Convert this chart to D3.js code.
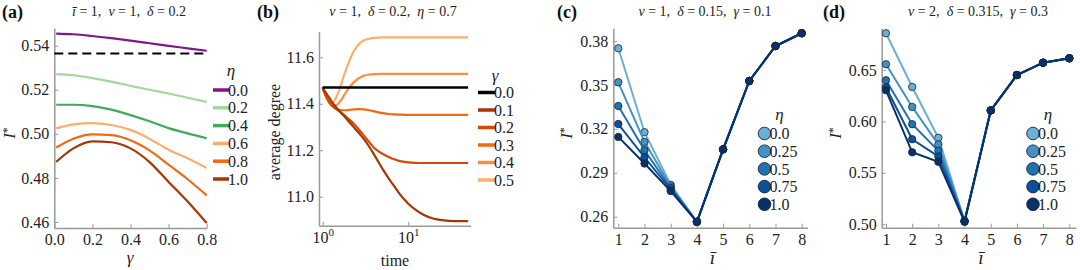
<!DOCTYPE html>
<html>
<head>
<meta charset="utf-8">
<script src="https://cdn.jsdelivr.net/npm/d3@7"></script>
<style>
  body { margin: 0; background: #fff; }
  svg { display: block; }
  .axis path { stroke: #999; stroke-width: 1.5; }
  .axis line { stroke: #999; stroke-width: 1; }
  .axis text { font-size: 16px; fill: #222; }
</style>
</head>
<body>
<svg id="fig" width="1080" height="270"></svg>
<script>
// ---- (a) I* against gamma, one curve per eta
const gammaA = [0.01, 0.1, 0.2, 0.3, 0.4, 0.5, 0.6, 0.7, 0.8];
const etaA = ['0.0', '0.2', '0.4', '0.6', '0.8', '1.0'];
const curvesA = [
  [0.5455, 0.5452, 0.5444, 0.5434, 0.5423, 0.5411, 0.5399, 0.5388, 0.5377],
  [0.5271, 0.5266, 0.5253, 0.5237, 0.5218, 0.5200, 0.5183, 0.5164, 0.5145],
  [0.5132, 0.5132, 0.5126, 0.5110, 0.5085, 0.5057, 0.5026, 0.5002, 0.4980],
  [0.5025, 0.5043, 0.5049, 0.5040, 0.5018, 0.4978, 0.4928, 0.4889, 0.4845],
  [0.4938, 0.4978, 0.4998, 0.4994, 0.4971, 0.4925, 0.4860, 0.4794, 0.4721],
  [0.4873, 0.4934, 0.4966, 0.4962, 0.4934, 0.4872, 0.4782, 0.4693, 0.4595]
];
const refLineA = 0.5365;
const colorsA = ['#80178a', '#a1d99b', '#41ab5d', '#fdae6b', '#f16913', '#a63603'];

// ---- (b) average degree against time, one curve per gamma
const timeB = [1, 1.1, 1.2, 1.3, 1.4, 1.6, 1.8, 2, 2.3, 2.7, 3, 3.5, 4, 5, 6, 7, 8, 10, 12, 15, 20, 25, 30, 40, 50];
const gammaB = ['0.0', '0.1', '0.2', '0.3', '0.4', '0.5'];
const curvesB = [
  [11.47, 11.47, 11.47, 11.47, 11.47, 11.47, 11.47, 11.47, 11.47, 11.47, 11.47, 11.47, 11.47, 11.47, 11.47, 11.47, 11.47, 11.47, 11.47, 11.47, 11.47, 11.47, 11.47, 11.47, 11.47],
  [11.47, 11.445, 11.425, 11.405, 11.39, 11.365, 11.345, 11.325, 11.30, 11.27, 11.25, 11.215, 11.18, 11.12, 11.075, 11.04, 11.01, 10.97, 10.945, 10.922, 10.905, 10.899, 10.896, 10.895, 10.895],
  [11.47, 11.43, 11.405, 11.39, 11.38, 11.365, 11.35, 11.335, 11.315, 11.285, 11.265, 11.235, 11.21, 11.185, 11.17, 11.16, 11.153, 11.148, 11.146, 11.145, 11.145, 11.145, 11.145, 11.145, 11.145],
  [11.47, 11.43, 11.405, 11.39, 11.38, 11.373, 11.372, 11.373, 11.376, 11.377, 11.376, 11.372, 11.367, 11.36, 11.356, 11.354, 11.353, 11.352, 11.352, 11.352, 11.352, 11.352, 11.352, 11.352, 11.352],
  [11.47, 11.43, 11.405, 11.392, 11.392, 11.41, 11.44, 11.465, 11.492, 11.512, 11.52, 11.526, 11.528, 11.529, 11.529, 11.529, 11.529, 11.529, 11.529, 11.529, 11.529, 11.529, 11.529, 11.529, 11.529],
  [11.47, 11.43, 11.41, 11.405, 11.42, 11.47, 11.53, 11.575, 11.625, 11.66, 11.672, 11.68, 11.684, 11.686, 11.686, 11.686, 11.686, 11.686, 11.686, 11.686, 11.686, 11.686, 11.686, 11.686, 11.686]
];
const colorsB = ['#000000', '#a63603', '#d94801', '#f16913', '#fd8d3c', '#fdae6b'];

// ---- (c), (d) I* against i-bar, one series per eta
const iBar = [1, 2, 3, 4, 5, 6, 7, 8];
const etaCD = ['0.0', '0.25', '0.5', '0.75', '1.0'];
const seriesC = [
  [0.3750, 0.3177, 0.2818, 0.2565, 0.3060, 0.3527, 0.3766, 0.3853],
  [0.3518, 0.3111, 0.2807, 0.2565, 0.3060, 0.3527, 0.3766, 0.3853],
  [0.3356, 0.3054, 0.2797, 0.2565, 0.3060, 0.3527, 0.3766, 0.3853],
  [0.3233, 0.3006, 0.2786, 0.2565, 0.3060, 0.3527, 0.3766, 0.3853],
  [0.3145, 0.2963, 0.2775, 0.2565, 0.3060, 0.3527, 0.3766, 0.3853]
];
const seriesD = [
  [0.6857, 0.6335, 0.5841, 0.5035, 0.6107, 0.6451, 0.6571, 0.6614],
  [0.6556, 0.6141, 0.5776, 0.5032, 0.6107, 0.6451, 0.6571, 0.6614],
  [0.6400, 0.5973, 0.5715, 0.5030, 0.6107, 0.6451, 0.6571, 0.6614],
  [0.6332, 0.5827, 0.5660, 0.5027, 0.6107, 0.6451, 0.6571, 0.6614],
  [0.6303, 0.5700, 0.5608, 0.5025, 0.6107, 0.6451, 0.6571, 0.6614]
];
const blues = ['#6baed6', '#4292c6', '#2171b5', '#08519c', '#08306b'];

const serif = '"Liberation Serif", "Times New Roman", "DejaVu Serif", serif';
const svg = d3.select('#fig');

// pin two values to two pixel positions, then stretch the range out to the spines
function fit(scale, v0, p0, v1, p1, lo, hi) {
  scale.domain([v0, v1]).range([p0, p1]);
  return scale.domain([scale.invert(lo), scale.invert(hi)]).range([lo, hi]);
}

function axes(x, y, xTicks, yTicks, xFmt, yFmt) {
  const xa = svg.append('g').attr('class', 'axis')
    .attr('transform', `translate(0,${y.range()[0]})`)
    .call(d3.axisBottom(x).tickValues(xTicks).tickFormat(xFmt)
      .tickSizeInner(-4).tickSizeOuter(0).tickPadding(6));
  svg.append('g').attr('class', 'axis')
    .attr('transform', `translate(${x.range()[0]},0)`)
    .call(d3.axisLeft(y).tickValues(yTicks).tickFormat(yFmt)
      .tickSizeInner(-4).tickSizeOuter(0).tickPadding(5));
  return xa;
}

// text made of plain and italic runs
function mathText(x, y, parts, size, anchor='middle', rotate=false) {
  const t = svg.append('text')
    .attr('font-size', size)
    .attr('text-anchor', anchor)
    .attr('fill', '#222')
    .style('white-space', 'pre');
  if (rotate) t.attr('transform', `translate(${x},${y}) rotate(-90)`);
  else t.attr('x', x).attr('y', y);
  parts.forEach(([s, it, dy, fs]) => {
    const sp = t.append('tspan').text(s);
    if (it) sp.attr('font-style', 'italic');
    if (dy) sp.attr('dy', dy);
    if (fs) sp.attr('font-size', fs);
  });
  return t;
}

function panelLabel(x, s) {
  svg.append('text').attr('x', x).attr('y', 18)
    .attr('font-size', 18).attr('font-weight', 'bold').attr('fill', '#111').text(s);
}

function istar(x) {
  mathText(x, 133, [['I', 1], ['*', 0, -4, 12]], 17, 'middle', true);
}

// ================= (a)
{
  const x = fit(d3.scaleLinear(), 0, 54.3, 0.8, 206.7, 54.3, 207);
  const y = fit(d3.scaleLinear(), 0.46, 222, 0.54, 45.7, 228, 28);
  axes(x, y, [0, 0.2, 0.4, 0.6, 0.8], [0.46, 0.48, 0.50, 0.52, 0.54], d3.format('.1f'), d3.format('.2f'));

  svg.append('line')
    .attr('x1', x(0)).attr('x2', x(0.8))
    .attr('y1', y(refLineA)).attr('y2', y(refLineA))
    .attr('stroke', '#000').attr('stroke-width', 2).attr('stroke-dasharray', '9,5');

  const line = d3.line().curve(d3.curveMonotoneX)
    .x((d, i) => x(gammaA[i])).y(d => y(d));
  svg.append('g').selectAll('path').data(curvesA).join('path')
    .attr('d', line).attr('fill', 'none')
    .attr('stroke', (d, i) => colorsA[i]).attr('stroke-width', 2.2);

  panelLabel(2, '(a)');
  mathText(129, 16, [['ī', 1], [' = 1,  '], ['ν', 1], [' = 1,  '], ['δ', 1], [' = 0.2']], 14);
  istar(15);
  mathText(130, 263, [['γ', 1]], 17);

  mathText(231, 76, [['η', 1]], 17);
  const lg = svg.append('g').selectAll('g').data(etaA).join('g')
    .attr('transform', (d, i) => `translate(0,${90 + i * 17.8})`);
  lg.append('line').attr('x1', 213).attr('x2', 229)
    .attr('stroke', (d, i) => colorsA[i]).attr('stroke-width', 3.5);
  lg.append('text').attr('x', 228).attr('dy', '0.35em')
    .attr('font-size', 16).attr('fill', '#222').text(d => d);
}

// ================= (b)
{
  const x = fit(d3.scaleLog(), 1, 322.7, 10, 408.3, 319, 470.7);
  const y = fit(d3.scaleLinear(), 11.0, 196.7, 11.6, 57.3, 225.7, 31.7);
  const xa = axes(x, y, [1, 10], [11.0, 11.2, 11.4, 11.6], d => '10', d3.format('.1f'));
  xa.selectAll('.tick text').each(function(d) {
    d3.select(this).append('tspan').attr('dy', -7).attr('font-size', 11)
      .text(Math.round(Math.log10(d)));
  });

  const line = d3.line().curve(d3.curveMonotoneX)
    .x((d, i) => x(timeB[i])).y(d => y(d));
  // draw lighter curves first so the black reference stays on top
  const order = [5, 4, 3, 2, 1, 0];
  svg.append('g').selectAll('path').data(order).join('path')
    .attr('d', k => line(curvesB[k])).attr('fill', 'none')
    .attr('stroke', k => colorsB[k]).attr('stroke-width', k => k ? 2.2 : 2.4);

  panelLabel(257, '(b)');
  mathText(393, 16, [['ν', 1], [' = 1,  '], ['δ', 1], [' = 0.2,  '], ['η', 1], [' = 0.7']], 14);
  svg.append('text').attr('transform', 'translate(280,132) rotate(-90)')
    .attr('text-anchor', 'middle').attr('font-size', 16).attr('fill', '#222')
    .text('average degree');
  svg.append('text').attr('x', 395).attr('y', 266)
    .attr('text-anchor', 'middle').attr('font-size', 16).attr('fill', '#222').text('time');

  mathText(495, 81, [['γ', 1]], 17);
  const lg = svg.append('g').selectAll('g').data(gammaB).join('g')
    .attr('transform', (d, i) => `translate(0,${92.5 + i * 17.5})`);
  lg.append('line').attr('x1', 478).attr('x2', 495)
    .attr('stroke', (d, i) => colorsB[i]).attr('stroke-width', 3.5);
  lg.append('text').attr('x', 494).attr('dy', '0.35em')
    .attr('font-size', 16).attr('fill', '#222').text(d => d);
}

// ================= (c) and (d)
function dotPanel(opt) {
  const x = fit(d3.scaleLinear(), 1, opt.x1, 8, opt.x8, opt.left, opt.right);
  const y = fit(d3.scaleLinear(), opt.yv[0], opt.yp[0], opt.yv[1], opt.yp[1], 227.7, 28.3);
  axes(x, y, iBar, opt.ticks, d3.format('d'), d3.format('.2f'));

  const line = d3.line().x((d, i) => x(iBar[i])).y(d => y(d));
  const grp = svg.append('g').selectAll('g').data(opt.series).join('g');
  grp.append('path').attr('d', line).attr('fill', 'none')
    .attr('stroke', (d, i) => blues[i]).attr('stroke-width', 2);
  grp.each(function(s, k) {
    d3.select(this).selectAll('circle').data(s).join('circle')
      .attr('cx', (d, i) => x(iBar[i])).attr('cy', d => y(d)).attr('r', 3.7)
      .attr('fill', blues[k]).attr('stroke', '#1d2633').attr('stroke-width', 0.8);
  });

  panelLabel(opt.lab[0], opt.lab[1]);
  mathText(opt.sub[0], 16, opt.sub[1], 14);
  istar(opt.left - 41);
  mathText((opt.left + opt.right) / 2 + 2, 264, [['ī', 1]], 19);

  mathText(opt.leg[0] + 15, 120, [['η', 1]], 17);
  const lg = svg.append('g').selectAll('g').data(etaCD).join('g')
    .attr('transform', (d, i) => `translate(${opt.leg[0]},${133.5 + i * 17.7})`);
  lg.append('circle').attr('r', 6.3)
    .attr('fill', (d, i) => blues[i]).attr('stroke', '#1d2633').attr('stroke-width', 0.9);
  lg.append('text').attr('x', 5).attr('dy', '0.35em')
    .attr('font-size', 16).attr('fill', '#222').text(d => d);
}

dotPanel({
  series: seriesC, x1: 618.3, x8: 801.7, left: 613.3, right: 807.6,
  yv: [0.26, 0.38], yp: [216.7, 41], ticks: [0.26, 0.29, 0.32, 0.35, 0.38],
  lab: [557, '(c)'],
  sub: [705, [['ν', 1], [' = 1,  '], ['δ', 1], [' = 0.15,  '], ['γ', 1], [' = 0.1']]],
  leg: [764.5]
});

dotPanel({
  series: seriesD, x1: 886, x8: 1069.3, left: 881.7, right: 1076,
  yv: [0.50, 0.65], yp: [224.3, 70], ticks: [0.50, 0.55, 0.60, 0.65],
  lab: [823, '(d)'],
  sub: [978, [['ν', 1], [' = 2,  '], ['δ', 1], [' = 0.315,  '], ['γ', 1], [' = 0.3']]],
  leg: [1033]
});

// one serif face for every label, including the axis ticks
svg.selectAll('.axis').attr('font-family', null);
svg.selectAll('text').attr('font-family', serif);
</script>
</body>
</html>
